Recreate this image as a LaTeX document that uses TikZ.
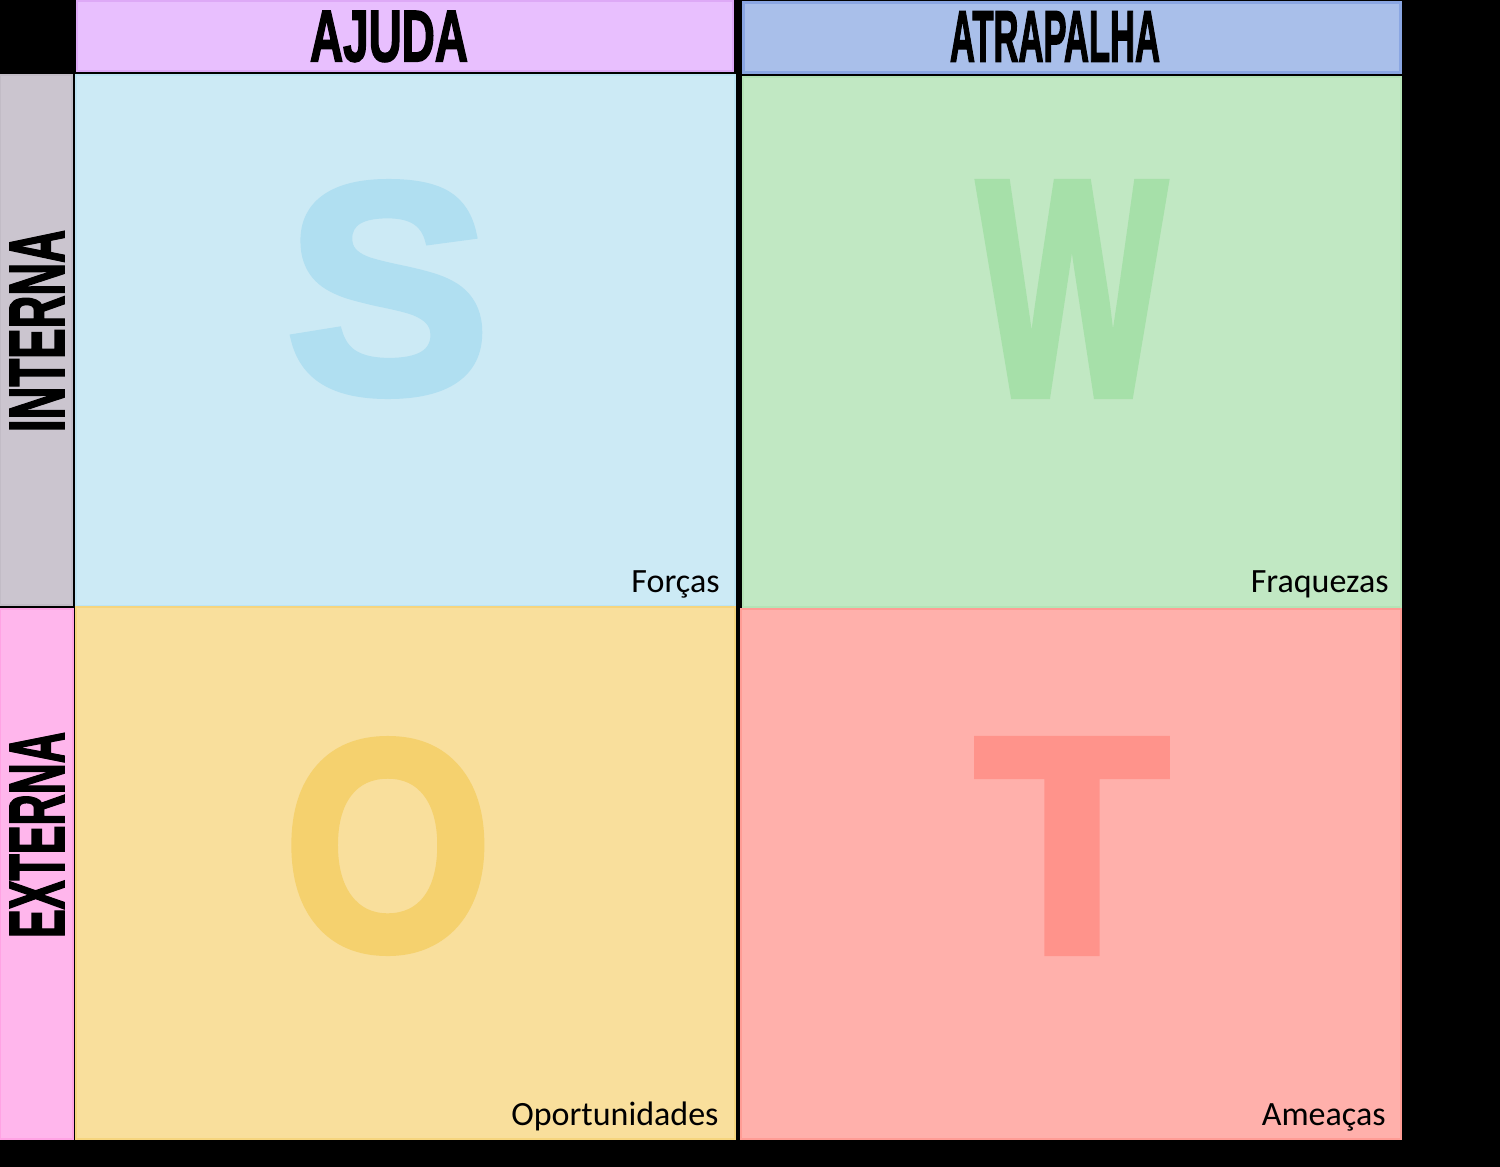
\documentclass[tikz,border=0pt]{standalone}
\usepackage{fontspec}
\setmainfont{Carlito}
\newfontfamily\headfont{Liberation Sans Bold}[FakeBold=2.5]
\newfontfamily\letterfont{Liberation Sans Bold}[FakeBold=3]
\usepackage{graphicx}
\usetikzlibrary{positioning}

\newlength\pxu
\setlength\pxu{0.5pt}

\definecolor{swotbg}{HTML}{000000}
\definecolor{ajudafill}{HTML}{E8BFFE}
\definecolor{ajudaline}{HTML}{DDA9F6}
\definecolor{atrapfill}{HTML}{A9BFEA}
\definecolor{atrapline}{HTML}{8AA6E2}
\definecolor{internafill}{HTML}{CBC5CF}
\definecolor{internaline}{HTML}{C2BCC6}
\definecolor{externafill}{HTML}{FFB6EC}
\definecolor{externaline}{HTML}{FFA3E4}
\definecolor{sfill}{HTML}{CCEAF5}
\definecolor{sline}{HTML}{BDE4F3}
\definecolor{sletter}{HTML}{B0DFF1}
\definecolor{wfill}{HTML}{C1E8C3}
\definecolor{wline}{HTML}{B4E3B6}
\definecolor{wletter}{HTML}{A6E0A9}
\definecolor{ofill}{HTML}{F9DF9C}
\definecolor{oline}{HTML}{F6D57E}
\definecolor{oletter}{HTML}{F5D16E}
\definecolor{tfill}{HTML}{FFB0AB}
\definecolor{tline}{HTML}{FF9C95}
\definecolor{tletter}{HTML}{FF938B}

\tikzset{
  cell/.style={draw, line width=1pt, anchor=north west, inner sep=0pt, outer sep=0pt},
  bigletter/.style={inner sep=0pt, font=\letterfont},
  headtxt/.style={inner sep=0pt, font=\headfont, text=black},
  lbl/.style={inner sep=0pt, font=\fontsize{17}{20}\selectfont, text=black}
}

\begin{document}
\begin{tikzpicture}[x=0.5pt,y=-0.5pt]
\fill[swotbg] (0,0) rectangle (1500,1167);
\useasboundingbox (0,0) rectangle (1500,1167);

% column headers
\node[cell, fill=ajudafill, draw=ajudaline, minimum width=656\pxu, minimum height=70\pxu] (ajuda) at (77,1) {};
\node[cell, fill=atrapfill, draw=atrapline, line width=1.5pt, minimum width=657\pxu, minimum height=70\pxu] (atrapalha) at (743,2) {};
\node[headtxt] (tajuda) at (389,36.5) {\resizebox{158\pxu}{50\pxu}{AJUDA}};
\node[headtxt] (tatrapalha) at (1055,36.5) {\resizebox{210\pxu}{50\pxu}{ATRAPALHA}};

% row headers
\node[cell, fill=internafill, draw=internaline, minimum width=72\pxu, minimum height=530\pxu] (interna) at (0,75) {};
\node[cell, fill=externafill, draw=externaline, minimum width=73\pxu, minimum height=530\pxu] (externa) at (0,609) {};
\node[headtxt, rotate=90] (tinterna) at (37,331) {\resizebox{202\pxu}{54\pxu}{INTERNA}};
\node[headtxt, rotate=90] (texterna) at (37,835) {\resizebox{206\pxu}{54\pxu}{EXTERNA}};

% quadrants
\node[cell, fill=sfill, draw=sline, minimum width=659\pxu, minimum height=531\pxu] (forcas) at (76,75) {};
\node[cell, fill=wfill, draw=wline, minimum width=658\pxu, minimum height=530\pxu] (fraquezas) at (743,77) {};
\node[cell, fill=ofill, draw=oline, minimum width=659\pxu, minimum height=532\pxu] (oportunidades) at (76,607) {};
\node[cell, fill=tfill, draw=tline, minimum width=660\pxu, minimum height=530\pxu] (ameacas) at (741,609) {};

% big letters
\node[bigletter, text=sletter] (letters) at (388,289) {\resizebox{203\pxu}{208\pxu}{S}};
\node[bigletter, text=wletter] (letterw) at (1072,289) {\resizebox{188\pxu}{211\pxu}{W}};
\node[bigletter, text=oletter] (lettero) at (388,846) {\resizebox{207\pxu}{208\pxu}{O}};
\node[bigletter, text=tletter] (lettert) at (1072,846) {\resizebox{193\pxu}{211\pxu}{T}};

% labels
\node[lbl, anchor=base east] (lforcas) at (720,592) {Forças};
\node[lbl, anchor=base east] (lfraquezas) at (1389,592) {Fraquezas};
\node[lbl, anchor=base east] (loportunidades) at (719,1125) {Oportunidades};
\node[lbl, anchor=base east] (lameacas) at (1386,1125) {Ameaças};
\end{tikzpicture}
\end{document}
